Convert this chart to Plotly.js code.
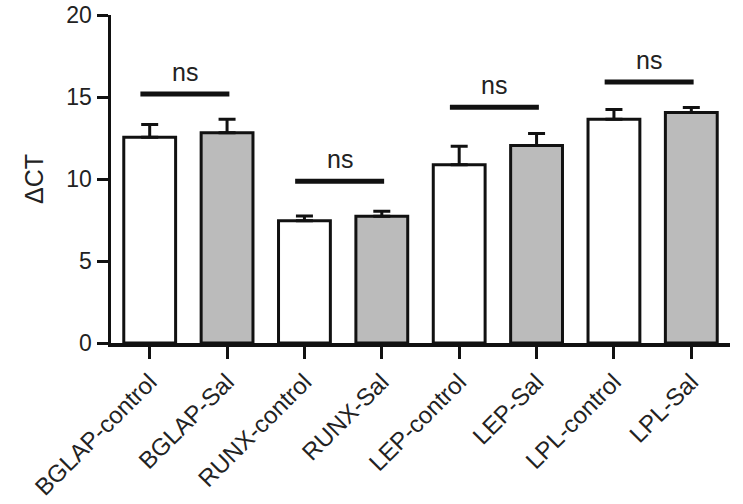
<!DOCTYPE html>
<html>
<head>
<meta charset="utf-8">
<script src="https://cdn.plot.ly/plotly-3.0.1.min.js"></script>
<style>html,body{margin:0;padding:0;background:#fff;}#chart{width:743px;height:504px;}</style>
</head>
<body>
<div id="chart"></div>
<script>
// Data
const categories = ["BGLAP-control", "BGLAP-Sal", "RUNX-control", "RUNX-Sal", "LEP-control", "LEP-Sal", "LPL-control", "LPL-Sal"];
const deltaCT = [12.55, 12.82, 7.45, 7.73, 10.87, 12.05, 13.65, 14.05];
const sem = [0.77, 0.83, 0.30, 0.31, 1.12, 0.73, 0.59, 0.31];
const groupType = ["control", "Sal", "control", "Sal", "control", "Sal", "control", "Sal"];
const yTickVals = [0, 5, 10, 15, 20];
// significance comparisons (pairs of category indices, bar height, label)
const sigFrom = [0, 2, 4, 6];
const sigTo = [1, 3, 5, 7];
const sigY = [15.19, 9.86, 14.38, 15.92];
const sigLabel = ["ns", "ns", "ns", "ns"];

const colorFor = {control: "#ffffff", Sal: "#bbbbbb"};
const FONT = "Liberation Sans, Arial, Helvetica, sans-serif";

const trace = {
  type: "bar",
  x: categories,
  y: deltaCT,
  marker: {
    color: groupType.map(g => colorFor[g]),
    line: {color: "#111", width: 3}
  },
  error_y: {
    type: "data",
    symmetric: false,
    array: sem,
    arrayminus: sem.map(() => 0),
    color: "#111",
    thickness: 3,
    width: 8.5
  },
  hoverinfo: "x+y"
};

const shapes = [];
const annotations = [];
for (let i = 0; i < sigY.length; i++) {
  const x0 = sigFrom[i] - 0.12;
  const x1 = sigTo[i] + 0.03;
  shapes.push({
    type: "line", xref: "x", yref: "y",
    x0: x0, x1: x1, y0: sigY[i], y1: sigY[i],
    line: {color: "#111", width: 5}
  });
  annotations.push({
    xref: "x", yref: "y",
    x: (x0 + x1) / 2, y: sigY[i],
    text: sigLabel[i], showarrow: false,
    yanchor: "bottom", yshift: 6,
    font: {family: FONT, size: 25, color: "#222"}
  });
}

const layout = {
  width: 743, height: 504,
  margin: {l: 111, r: 13, t: 15, b: 161},
  paper_bgcolor: "#fff", plot_bgcolor: "#fff",
  showlegend: false,
  bargap: 0.33,
  font: {family: FONT, color: "#222"},
  xaxis: {
    type: "category",
    range: [-0.5, 7.5],
    showline: true, linecolor: "#111", linewidth: 3.5,
    ticks: "outside", ticklen: 12, tickwidth: 3, tickcolor: "#111",
    tickangle: -45,
    tickfont: {family: FONT, size: 24, color: "#222"},
    showgrid: false, zeroline: false, fixedrange: true
  },
  yaxis: {
    range: [0, 20],
    tickvals: yTickVals,
    ticktext: yTickVals.map(String),
    showline: true, linecolor: "#111", linewidth: 3.5,
    ticks: "outside", ticklen: 11, tickwidth: 3, tickcolor: "#111",
    tickfont: {family: FONT, size: 23, color: "#222"},
    showgrid: false, zeroline: false, fixedrange: true,
    title: {text: "ΔCT", font: {family: FONT, size: 25, color: "#222"}, standoff: 16}
  },
  shapes: shapes,
  annotations: annotations
};

Plotly.newPlot("chart", [trace], layout, {displayModeBar: false, staticPlot: true});
</script>
</body>
</html>
